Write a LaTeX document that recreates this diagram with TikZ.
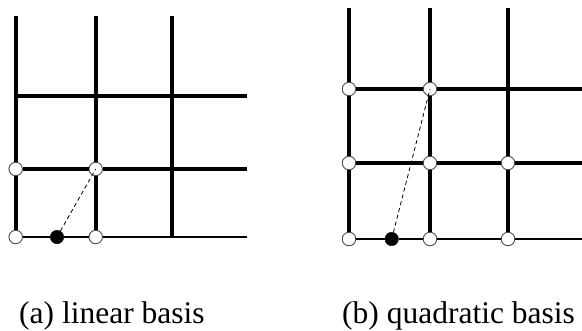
\documentclass[tikz,border=0pt]{standalone}
\usepackage{fontspec}
\setmainfont{Liberation Serif}
\usetikzlibrary{positioning}

\tikzset{
  gridline/.style={line width=4pt},
  thinline/.style={line width=1.6pt},
  opendot/.style={circle, draw=gray!60!black, fill=white, line width=0.9pt, inner sep=0pt, minimum size=13.5pt},
  soliddot/.style={circle, draw=black, fill=black, inner sep=0pt, minimum size=13.5pt},
  helperline/.style={line width=0.8pt, dash pattern=on 4pt off 3pt},
  caption/.style={anchor=base west, inner sep=0pt, font=\fontsize{31.5}{34}\selectfont}
}

\begin{document}
\begin{tikzpicture}[x=1pt, y=-1pt]
    \useasboundingbox (0,0) rectangle (582,330);

    % ==========================================
    % LEFT GRID: linear basis
    % ==========================================
    % Grid points
    \coordinate (at0) at (15.7,16);
    \coordinate (at1) at (95.7,16);
    \coordinate (at2) at (172,16);
    \coordinate (ab2) at (172,237);
    \coordinate (ah2l) at (15.7,95.7);
    \coordinate (ah2r) at (247,95.7);
    \coordinate (ah1r) at (247,169);
    \coordinate (ah0r) at (247,237);

    % Nodes of the element
    \node[opendot] (a10) at (15.7,169) {};
    \node[opendot] (a11) at (95.7,169) {};
    \node[opendot] (a00) at (15.7,237) {};
    \node[opendot] (a01) at (95.7,237) {};
    \node[soliddot] (ap) at (57,237) {};

    % Vertical lines
    \draw[gridline] (at0) -- (a10);
    \draw[gridline] (a10) -- (a00);
    \draw[gridline] (at1) -- (a11);
    \draw[gridline] (a11) -- (a01);
    \draw[gridline] (at2) -- (ab2);

    % Horizontal lines
    \draw[gridline] (ah2l) -- (ah2r);
    \draw[gridline] (a10) -- (a11);
    \draw[gridline] (a11) -- (ah1r);
    \draw[thinline] (a00) -- (ap);
    \draw[thinline] (ap) -- (a01);
    \draw[thinline] (a01) -- (ah0r);

    % Projection
    \draw[helperline] (ap) -- (a11.center);

    \node[caption] (capa) at (19,323) {(a) linear basis};

    % ==========================================
    % RIGHT GRID: quadratic basis
    % ==========================================
    % Grid points
    \coordinate (bt0) at (349,8);
    \coordinate (bt1) at (430,8);
    \coordinate (bt2) at (508,8);
    \coordinate (bh2r) at (582,89);
    \coordinate (bh1r) at (582,163);
    \coordinate (bh0r) at (582,239);

    % Nodes of the element
    \node[opendot] (b20) at (349,89) {};
    \node[opendot] (b21) at (430,89) {};
    \node[opendot] (b10) at (349,163) {};
    \node[opendot] (b11) at (430,163) {};
    \node[opendot] (b12) at (508,163) {};
    \node[opendot] (b00) at (349,239) {};
    \node[opendot] (b01) at (430,239) {};
    \node[opendot] (b02) at (508,239) {};
    \node[soliddot] (bp) at (391.7,239) {};

    % Vertical lines
    \draw[gridline] (bt0) -- (b20);
    \draw[gridline] (b20) -- (b10);
    \draw[gridline] (b10) -- (b00);
    \draw[gridline] (bt1) -- (b21);
    \draw[gridline] (b21) -- (b11);
    \draw[gridline] (b11) -- (b01);
    \draw[gridline] (bt2) -- (b12);
    \draw[gridline] (b12) -- (b02);

    % Horizontal lines
    \draw[gridline] (b20) -- (b21);
    \draw[gridline] (b21) -- (bh2r);
    \draw[gridline] (b10) -- (b11);
    \draw[gridline] (b11) -- (b12);
    \draw[gridline] (b12) -- (bh1r);
    \draw[thinline] (b00) -- (bp);
    \draw[thinline] (bp) -- (b01);
    \draw[thinline] (b01) -- (b02);
    \draw[thinline] (b02) -- (bh0r);

    % Projection
    \draw[helperline] (bp) -- (b21.center);

    \node[caption] (capb) at (342,323) {(b) quadratic basis};

\end{tikzpicture}
\end{document}
